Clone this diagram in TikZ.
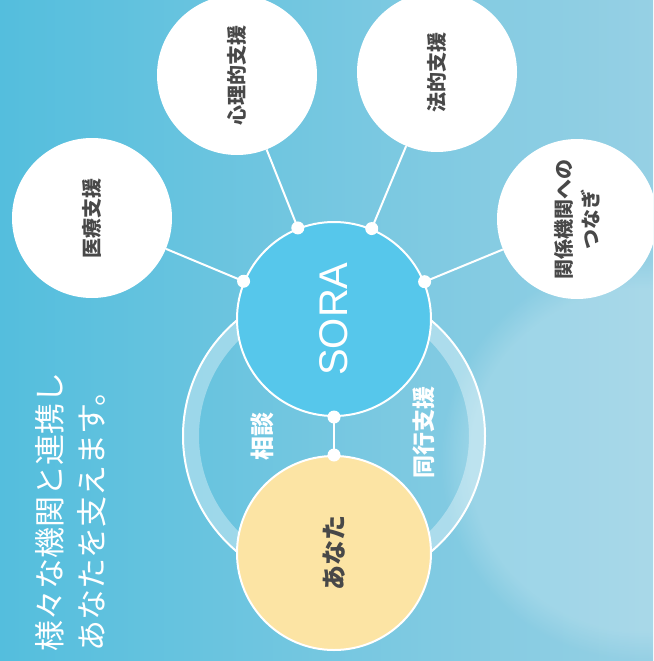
\documentclass[tikz,border=0pt]{standalone}
\usepackage{fontspec}
\setmainfont{Liberation Sans}
\newfontfamily\jp{Noto Sans CJK JP}
\usetikzlibrary{calc}
\usetikzlibrary{fadings}

\definecolor{skyleft}{RGB}{84,190,221}
\definecolor{skyright}{RGB}{150,208,228}
\definecolor{soracol}{RGB}{86,199,235}
\definecolor{anatacol}{RGB}{252,228,164}
\definecolor{labelgray}{RGB}{72,72,72}

\tikzset{
  bubble/.style={circle, fill=white, minimum size=160pt, inner sep=0pt},
  hub/.style={circle, draw=white, line width=2pt, minimum size=194pt, inner sep=0pt},
  dot/.style={circle, fill=white, minimum size=13pt, inner sep=0pt},
  link/.style={white, line width=2pt},
  tag/.style={rotate=90, text=labelgray, align=center,
    font=\jp\bfseries\fontsize{20}{27}\selectfont}
}

\begin{document}
\begin{tikzpicture}[x=1pt,y=-1pt]
    \useasboundingbox (0,0) rectangle (653,661);
    \clip (0,0) rectangle (653,661);

%background
    \shade[left color=skyleft, right color=skyright] (0,0) rectangle (653,661);
    \fill[white, fill opacity=0.18, path fading=circle with fuzzy edge 15 percent]
        (640,460) circle (200);

    \coordinate (S) at (334,319);
    \coordinate (A) at (334,553);
    \coordinate (M) at ($(S)!0.5!(A)$);

%ring
    \draw[white, opacity=0.35, line width=16pt] (M) circle (143);
    \draw[white, line width=2pt] (M) circle (151);

%circles
    \node[hub, fill=soracol, rotate=90, text=white,
        font=\fontsize{40}{48}\selectfont] (sora) at (S) {SORA};
    \node[hub, fill=anatacol, rotate=90, text=labelgray,
        font=\jp\bfseries\fontsize{25}{30}\selectfont] (anata) at (A) {あなた};

    \node[bubble, tag] (iryo)   at (92,218)  {医療支援};
    \node[bubble, tag] (shinri) at (237,75)  {心理的支援};
    \node[bubble, tag] (hoteki) at (437,72)  {法的支援};
    \node[bubble, tag] (kankei) at (577,219) {関係機関への\\つなぎ};

%links
    \draw[link] (sora) -- node[dot, pos=0] {} (iryo);
    \draw[link] (sora) -- node[dot, pos=0] {} (shinri);
    \draw[link] (sora) -- node[dot, pos=0] {} (hoteki);
    \draw[link] (sora) -- node[dot, pos=0] {} (kankei);
    \draw[link] (sora) -- node[dot, pos=0] {} node[dot, pos=1] {} (anata);

%labels
    \node[rotate=90, text=white, font=\jp\bfseries\fontsize{24}{28}\selectfont]
        (soudan) at (262,436) {相談};
    \node[rotate=90, text=white, font=\jp\bfseries\fontsize{23}{28}\selectfont]
        (doukou) at (424,432) {同行支援};
    \node[rotate=90, anchor=west, align=left, inner sep=0pt, text=white,
        font=\jp\fontsize{31}{42}\selectfont]
        (catch) at (71,652) {様々な機関と連携し\\あなたを支えます。};

\end{tikzpicture}
\end{document}
